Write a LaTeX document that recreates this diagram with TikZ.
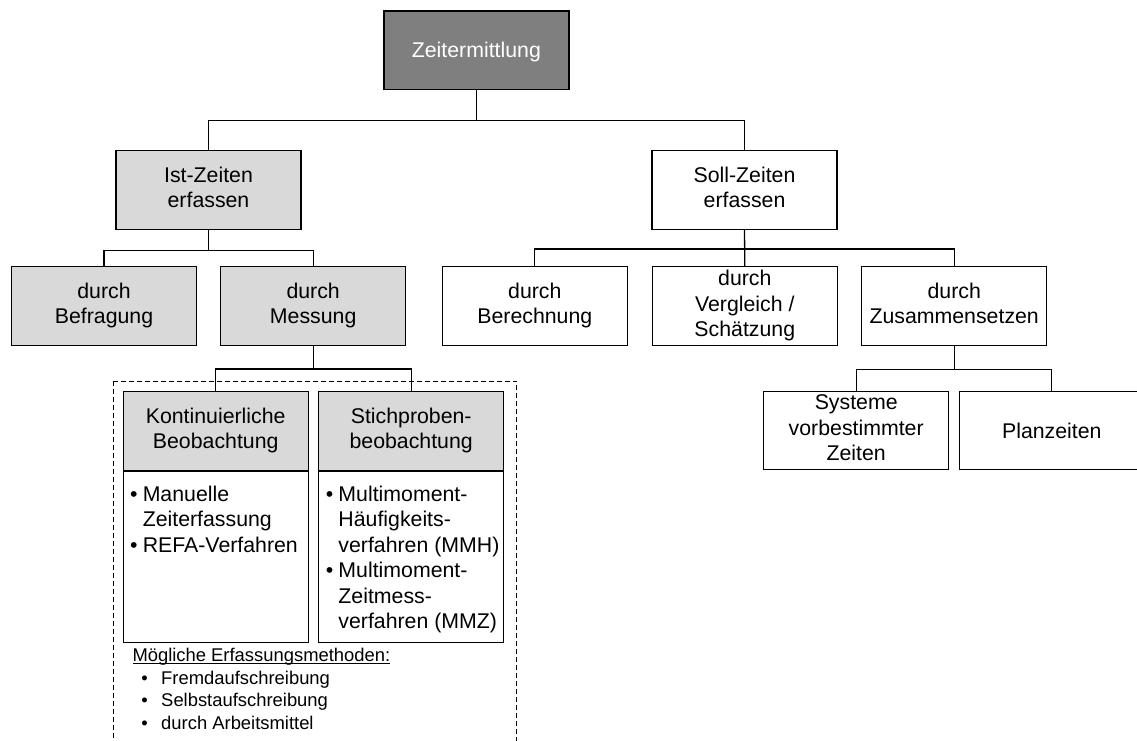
\documentclass[tikz,border=0pt]{standalone}
\usepackage{fontspec}
\setmainfont{Liberation Sans}
\definecolor{darkfill}{HTML}{7F7F7F}
\definecolor{lightfill}{HTML}{D9D9D9}
\newcommand\bigsz{\fontsize{21.3}{25.5}\selectfont}
\newcommand\smallsz{\fontsize{18.4}{22.5}\selectfont}
\newcommand\bstrut{\rule[-5pt]{0pt}{25.5pt}}
\newcommand\undl[1]{\setbox0\hbox{#1}\rlap{\rule[-2.4pt]{\wd0}{0.9pt}}\box0}

\begin{document}
\begin{tikzpicture}[x=1pt,y=-1pt,
  box/.style={draw=black, line width=1.2pt, minimum width=185pt, minimum height=78.5pt,
    inner sep=0pt, align=center, font=\bigsz, execute at begin node=\bstrut},
  greybox/.style={box, fill=lightfill},
  rootbox/.style={box, fill=darkfill, text=white},
  plainbox/.style={box, fill=white},
  bodybox/.style={draw=black, line width=1.2pt, minimum width=185pt, minimum height=171pt, inner sep=0pt, anchor=north},
  listtext/.style={font=\bigsz, inner sep=0pt, anchor=base west},
  link/.style={draw=black, line width=1.3pt},
  dashbox/.style={draw=black, line width=1pt, dash pattern=on 5pt off 3pt}
]
\useasboundingbox (0,0) rectangle (1137,740);
\clip (0,0) rectangle (1137,740);

% frame around the measurement methods
\draw[dashbox] (113.3,381) rectangle (516.7,760);

% hierarchy boxes (each last line ends with a strut so all boxes centre alike)
\node[rootbox]  (zeit) at (476.4,50.2) {Zeitermittlung\bstrut};
\node[greybox]  (ist)  at (208.5,190)  {Ist-Zeiten\\erfassen\bstrut};
\node[plainbox] (soll) at (744.5,190)  {Soll-Zeiten\\erfassen\bstrut};

\node[greybox]  (bef)  at (104,305.9)   {durch\\Befragung\bstrut};
\node[greybox]  (mess) at (313.2,305.9) {durch\\Messung\bstrut};
\node[plainbox] (ber)  at (534.8,305.9) {durch\\Berechnung\bstrut};
\node[plainbox] (verg) at (744.8,305.9) {durch\\Vergleich /\\Schätzung\bstrut};
\node[plainbox] (zus)  at (954.2,305.9) {durch\\Zusammensetzen\bstrut};

\node[plainbox] (sys)  at (856.2,430.5)  {Systeme\\vorbestimmter\\Zeiten\bstrut};
\node[plainbox] (plan) at (1051.8,430.5) {Planzeiten\bstrut};

% observation methods with their procedures
\node[greybox] (khead) at (215.7,430.85) {Kontinuierliche\\Beobachtung\bstrut};
\node[greybox] (shead) at (411.2,430.85) {Stichproben-\\beobachtung\bstrut};
\node[bodybox] (kbody) at (khead.south) {};
\node[bodybox] (sbody) at (shead.south) {};

\node[listtext, xshift=7.3pt, yshift=-30.7pt] (klist) at (kbody.north west)
  {\begin{tabular}[t]{@{}l@{\hspace{5.2pt}}l@{}}
   • & Manuelle\\
     & Zeiterfassung\\
   • & REFA-Verfahren
   \end{tabular}};
\node[listtext, xshift=7.5pt, yshift=-30.7pt] (slist) at (sbody.north west)
  {\begin{tabular}[t]{@{}l@{\hspace{5.2pt}}l@{}}
   • & Multimoment-\\
     & Häufigkeits-\\
     & verfahren (MMH)\\
   • & Multimoment-\\
     & Zeitmess-\\
     & verfahren (MMZ)
   \end{tabular}};

\node[font=\smallsz, inner sep=0pt, anchor=base west] (methods) at (132.3,661.7)
  {\begin{tabular}[t]{@{}l@{\hspace{13.5pt}}l@{}}
   \multicolumn{2}{@{}l@{}}{\undl{Mögliche Erfassungsmethoden:}}\\
   \hspace{8.8pt}• & Fremdaufschreibung\\
   \hspace{8.8pt}• & Selbstaufschreibung\\
   \hspace{8.8pt}• & durch Arbeitsmittel
   \end{tabular}};

% junction points of the connectors
\path (zeit.south) ++(0,30.7) coordinate (j1);
\path (ist.south)  ++(0,20.7) coordinate (j2);
\path (soll.south) ++(0,19)   coordinate (j3);
\path (mess.south) ++(0,23.3) coordinate (j4);
\path (zus.south)  ++(0,24)   coordinate (j5);

% connectors
\draw[link] (zeit.south) -- (j1);
\draw[link] (ist.north) |- (j1) -| (soll.north);
\draw[link] (ist.south) -- (j2);
\draw[link] (bef.north) |- (j2) -| (mess.north);
\draw[link] (soll.south) -- (verg.north);
\draw[link] (ber.north) |- (j3) -| (zus.north);
\draw[link] (mess.south) -- (j4);
\draw[link] (khead.north) |- (j4) -| (shead.north);
\draw[link] (zus.south) -- (j5);
\draw[link] (sys.north) |- (j5) -| (plan.north);
\end{tikzpicture}
\end{document}
